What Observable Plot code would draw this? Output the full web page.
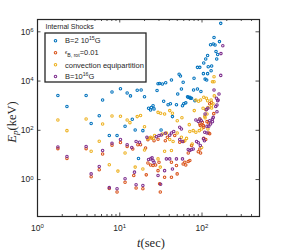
<!DOCTYPE html>
<html><head><meta charset="utf-8">
<script src="https://cdn.jsdelivr.net/npm/d3@7"></script>
<script src="https://cdn.jsdelivr.net/npm/@observablehq/plot@0.6"></script>
<style>body{margin:0;background:#fff}</style>
</head><body><div id="chart"></div>
<script>
// ---- data: [t (sec), Ep (keV)] ----
const seriesNames = ["B=2 10^15G", "eps_B,rot=0.01", "convection equipartition", "B=10^16G"];
const seriesColors = ["#0072BD", "#D95319", "#EDB120", "#7E2F8E"];

const blueB2e15 = [
[1.77,2600],[2.28,930],[3.9,2600],[4.49,190],[5.63,390],[6.19,1700],[7.46,61],[8.05,3600],
[9.27,61],[10.2,4900],[11.6,145],[12.3,3300],[13.5,2500],[14.2,280],[15.4,103],[16.3,4200],[16.9,7.1],[18.2,4300],[19.1,97],[20.0,2300],
[22.4,780],[23.7,670],[24.2,850],[25.4,1000],[26.1,740],[28.4,4100],[29.2,7800],[30.5,8000],[31.8,103],[33.0,7600],[34.2,1500],[36.2,8500],[38.7,1100],[41.3,1200],[42.5,11000],[43.7,360],[48.9,1100],[50.7,3000],[52.7,19000],[54.7,16000],[56.2,4800],[57.9,1000],[59,8900],[60.0,1200],[63.5,1300],[66.7,2300],[68,2200],[71.1,2200],[72,2000],[74.6,2000],[79,4300],[80,13000],[82,1600],[88,4800],[88,36000],[94,36000],[97,3800],[104,20000],[105,54000],[109,12000],[111,78000],[114,11000],[117,20000],[117,110000],[119,38000],[127,300000],[129,26000],[131,41000],[137,320000],[140,590000],[144,290000],[148,160000],[151,78000],[155,120000],[163,400000],[169,2.2e6]
];
const orangeEpsRot = [
[1.77,18],[2.28,7.1],[3.9,18],[4.49,1.3],[5.63,2.5],[6.19,11],[7.46,0.43],[8.05,25],
[9.27,0.31],[10.2,32],[11.6,0.78],[12.3,22],[14.4,17.5],[14.8,1.45],[15.8,0.45],[16.6,26],[17.9,26],[19.1,0.42],[20.6,19],[21.0,1.55],[22.0,41],[22.0,4.7],[23.7,3.9],[24.2,49],[25.4,3.7],[26.1,38],[27.3,3.9],[29.2,2.3],[29.2,43],[30.0,5.0],[30.5,0.67],[31.1,0.31],[35.1,1.24],[35.8,38],[37.9,52],[42.5,1.24],[42.5,5.0],[46.6,61],[48.9,3.7],[49.9,1.7],[53.6,33],[59.0,4.3],[59.5,35],[61.8,5.0],[63.5,3.9],[68,5.4],[68,12],[71.1,5.9],[74.6,24],[90.1,13.5],[94.2,17.5],[94.2,180],[95.3,155],[96.1,12],[101,210],[104,155],[105,47],[105,132],[111,42],[115,225],[121,78],[121,200],[124,73],[124,1200],[130,1350],[139,475]
];
const yellowConvEq = [
[1.77,260],[2.28,97],[3.9,290],[4.49,14],[5.63,36],[6.19,180],[7.46,4.0],[8.05,380],
[9.5,2.2],[10.2,370],[11.6,12],[12.3,260],[13.3,205],[15.4,3.2],[16.3,360],[17.9,400],[19.1,2.7],[20.0,140],[20.0,16],[22.0,47],[23.7,52],[25.4,47],[26.5,61],[29.2,6.9],[29.2,535],[31.1,3.2],[31.4,490],[33.0,71],[35.1,14],[35.1,460],[36.9,78],[40.5,42],[40.5,630],[42.5,15],[43.7,490],[44.5,35],[49.9,78],[50,245],[56.2,52],[57,325],[61.8,38],[64.8,47],[70,170],[71.1,89],[76,28],[78.2,97],[80.5,630],[84.2,83],[84.2,1700],[90.8,1500],[92.6,97],[94.2,290],[96.1,1700],[98.9,114],[99,20],[103,780],[105,2200],[108,370],[109,320],[111,690],[113,2000],[115,460],[117,1600],[118,114],[118,850],[129,1700],[130,1000],[131,810],[134,9300],[136,1200],[140,9300],[140,15000],[141,2500]
];
const purpleB1e16 = [
[1.77,21],[2.28,8.6],[3.9,22],[4.49,1.7],[5.63,3.4],[6.19,15],[7.46,0.47],[8.05,30],
[9.27,0.42],[10.2,42],[11.6,1.07],[12.3,26],[14.0,20],[15.1,2.0],[15.8,0.61],[15.8,35],[17.4,33],[19.1,0.57],[21.4,52],[22.4,6.5],[23.7,6.9],[24.7,7.6],[25.4,5.9],[26.1,5.0],[27.8,55],[29.2,1.45],[30.0,61],[31.4,0.65],[32.0,65],[35.1,2.3],[35.8,76],[36.9,6.9],[40.5,6.9],[40.5,63],[42.5,78],[43.7,2.7],[45.3,89],[48.9,6.9],[53.6,42],[53.6,132],[56.2,114],[57.9,35],[57.9,6.9],[68,16.5],[71.1,15],[74.6,16.5],[78.2,17.5],[84.2,260],[85.9,35],[90.1,31],[90.1,230],[94.2,290],[95.3,24],[98,245],[104,45],[107,38],[108,83],[109,460],[113,690],[115,78],[115,145],[118,780],[121,145],[124,245],[127,180],[134,290],[134,225],[137,335],[140,4300],[147,930],[150,2000],[152,1070],[152,570],[155,1600],[157,1700],[161,3000],[169,17000],[170,130000],[179,270000]
];

const xMajor = [1, 10, 100];
const xMinor = [2,3,4,5,6,7,8,9,20,30,40,50,60,70,80,90,200,300,400];
const yMajor = [1, 100, 1e4, 1e6];
const xDomain = [1, 500];
const yDomain = [0.0316, 3.16e6];

// ---- build table ----
const allSeries = [blueB2e15, orangeEpsRot, yellowConvEq, purpleB1e16];
const rows = [];
allSeries.forEach((arr, i) => arr.forEach(([t, E]) => rows.push({t, E, s: seriesNames[i]})));

const W = 285, H = 252, ML = 37, MR = 26, MT = 19, MB = 36;
const iw = W - ML - MR, ih = H - MT - MB;
const ink = "#262626";

const plot = Plot.plot({
  width: W, height: H,
  marginLeft: ML, marginRight: MR, marginTop: MT, marginBottom: MB,
  style: {fontFamily: "Liberation Sans, Arial, sans-serif", fontSize: "8.5px", color: ink, background: "white"},
  x: {type: "log", domain: xDomain},
  y: {type: "log", domain: yDomain},
  color: {domain: seriesNames, range: seriesColors},
  marks: [
    Plot.axisX({ticks: xMajor, tickSize: 0, tickPadding: 8, tickFormat: d => String(d), label: null}),
    Plot.axisY({ticks: yMajor, tickSize: 0, tickPadding: 4, tickFormat: d => String(d), label: null}),
    Plot.tickX(xMajor, {x: d => d, insetTop: ih - 3.5, stroke: ink, strokeWidth: 0.8}),
    Plot.tickX(xMajor, {x: d => d, insetBottom: ih - 3.5, stroke: ink, strokeWidth: 0.8}),
    Plot.tickX(xMinor, {x: d => d, insetTop: ih - 2, stroke: ink, strokeWidth: 0.8}),
    Plot.tickX(xMinor, {x: d => d, insetBottom: ih - 2, stroke: ink, strokeWidth: 0.8}),
    Plot.tickY(yMajor, {y: d => d, insetRight: iw - 3.5, stroke: ink, strokeWidth: 0.8}),
    Plot.tickY(yMajor, {y: d => d, insetLeft: iw - 3.5, stroke: ink, strokeWidth: 0.8}),
    Plot.dot(rows, {x: "t", y: "E", stroke: "s", r: 1.25, strokeWidth: 1.05, fill: "none"}),
    Plot.frame({stroke: ink, strokeWidth: 1.2})
  ]
});
document.getElementById("chart").appendChild(plot);

// ---- tick labels as 10^n with real superscripts ----
const svg = d3.select(plot);
svg.selectAll("g[aria-label='x-axis tick label'] text, g[aria-label='y-axis tick label'] text").each(function() {
  const el = d3.select(this);
  const v = +el.text();
  const n = Math.round(Math.log10(v));
  el.text(null);
  el.append("tspan").text("10");
  el.append("tspan").attr("font-size", 6).attr("dy", "-0.45em").text(String(n));
});

// ---- legend & labels (layout) ----
const sans = "Liberation Sans, Arial, sans-serif";
const serif = "Liberation Serif, Times New Roman, serif";

svg.append("text").attr("x", 45.5).attr("y", 29).attr("text-anchor", "start").attr("font-family", sans).attr("font-size", 7)
  .attr("fill", ink).text("Internal Shocks");

svg.append("rect").attr("x", 45).attr("y", 33).attr("width", 101).attr("height", 49)
  .attr("fill", "white").attr("stroke", ink).attr("stroke-width", 1.3);

const rowY = [40.7, 52.7, 64.8, 76.5];
const lg = svg.append("g").attr("font-family", sans).attr("font-size", 7.5).attr("fill", ink).attr("text-anchor", "start");
rowY.forEach((y, i) => {
  lg.append("circle").attr("cx", 55.5).attr("cy", y).attr("r", 1.25)
    .attr("fill", "none").attr("stroke", seriesColors[i]).attr("stroke-width", 1.05);
});
let t;
t = lg.append("text").attr("x", 65).attr("y", rowY[0] + 2.7);
t.append("tspan").text("B=2 10");
t.append("tspan").attr("font-size", 5.2).attr("dy", -3).text("15");
t.append("tspan").attr("dy", 3).text("G");

t = lg.append("text").attr("x", 65).attr("y", rowY[1] + 2.7);
t.append("tspan").attr("font-size", 5.2).attr("dy", -1.5).text("ϵ");
t.append("tspan").attr("font-size", 5.2).attr("dy", 3).text("B, rot");
t.append("tspan").attr("dy", -1.5).text("=0.01");

lg.append("text").attr("x", 65).attr("y", rowY[2] + 2.7).text("convection equipartition");

t = lg.append("text").attr("x", 65).attr("y", rowY[3] + 2.7);
t.append("tspan").text("B=10");
t.append("tspan").attr("font-size", 5.2).attr("dy", -3).text("16");
t.append("tspan").attr("dy", 3).text("G");

// axis labels
const yl = svg.append("text").attr("transform", "translate(15.5,122) rotate(-90)")
  .attr("text-anchor", "middle").attr("font-family", serif).attr("font-size", 12.5).attr("fill", ink);
yl.append("tspan").attr("font-style", "italic").text("E");
yl.append("tspan").attr("font-style", "italic").attr("font-size", 9).attr("dy", 2.5).text("p");
yl.append("tspan").attr("dy", -2.5).text("(keV)");

const xl = svg.append("text").attr("x", 151).attr("y", 247)
  .attr("text-anchor", "middle").attr("font-family", serif).attr("font-size", 12.5).attr("fill", ink);
xl.append("tspan").attr("font-style", "italic").text("t");
xl.append("tspan").text("(sec)");
</script>
</body></html>
